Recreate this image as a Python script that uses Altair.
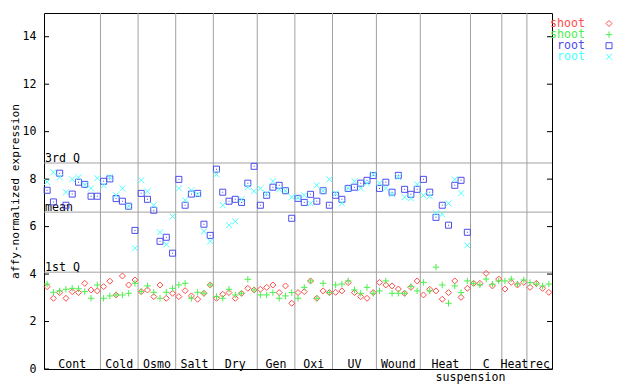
import altair as alt
import pandas as pd

# ---- data ----
groups = ["Cont", "Cold", "Osmo", "Salt", "Dry", "Gen", "Oxi", "UV", "Wound",
          "Heat", "C", "Heat", "rec"]
group_sizes = [9, 6, 6, 6, 7, 6, 6, 7, 7, 8, 5, 4, 4]

shoot_red = [3.47, 2.98, 3.22, 2.98, 3.26, 3.22, 3.61, 3.33, 3.29,
             3.47, 3.70, 3.12, 3.92, 3.54, 3.75,
             3.26, 3.33, 3.05, 3.54, 2.98, 3.19,
             3.05, 3.30, 3.08, 2.94, 3.19, 3.54,
             2.98, 3.15, 3.22, 2.98, 3.19, 3.40, 3.33,
             3.36, 3.44, 3.54, 3.22, 3.50, 2.77,
             3.22, 3.26, 3.71, 2.98, 3.29, 3.22,
             3.23, 3.29, 3.64, 3.22, 3.05, 2.98, 3.22,
             3.65, 3.54, 3.50, 3.37, 3.19, 3.44, 3.71,
             3.12, 3.36, 3.29, 2.94, 3.22, 3.71, 3.02, 3.40,
             3.61, 3.61, 4.03, 3.50, 3.79,
             3.37, 3.65, 3.54, 3.65,
             3.44, 3.61, 3.40, 3.23]

shoot_green = [3.58, 3.23, 3.29, 3.36, 3.40, 3.38, 3.26, 2.98, 3.54,
               2.98, 3.08, 3.12, 3.12, 3.19, 3.61,
               3.26, 3.50, 3.23, 2.98, 3.23, 3.40,
               3.54, 3.61, 2.98, 3.23, 3.19, 3.54,
               3.05, 2.98, 3.36, 3.12, 3.19, 3.78, 3.33,
               3.12, 3.12, 3.22, 2.98, 3.08, 3.22,
               2.98, 3.44, 3.71, 2.98, 3.61, 3.22,
               3.54, 3.58, 3.71, 3.33, 3.19, 3.44, 3.19,
               3.29, 3.71, 3.19, 3.19, 3.19, 3.47, 3.29,
               3.65, 3.29, 4.29, 3.54, 2.77, 3.50, 3.22, 3.71,
               3.61, 3.54, 3.79, 3.57, 3.71,
               3.71, 3.79, 3.58, 3.75,
               3.64, 3.58, 3.50, 3.58]

root_blue = [7.53, 7.04, 8.25, 6.90, 7.37, 7.87, 7.78, 7.28, 7.28,
             7.91, 8.01, 7.18, 7.07, 6.86, 5.84,
             7.40, 7.15, 6.69, 5.38, 5.55, 4.88,
             7.99, 6.90, 7.37, 7.40, 6.10, 5.63,
             8.42, 7.45, 7.07, 7.15, 7.02, 7.83, 8.54,
             6.90, 7.32, 7.66, 7.74, 7.51, 6.35,
             7.19, 7.02, 7.36, 7.07, 7.51, 6.90,
             7.32, 7.15, 7.61, 7.66, 7.83, 7.95, 8.15,
             7.61, 7.87, 7.45, 8.16, 7.57, 7.36, 7.57,
             7.99, 7.45, 6.39, 6.90, 6.06, 7.74, 7.95, 5.76]

root_cyan = [7.88, 8.29, 8.08, 7.45, 7.99, 8.08, 7.76, 7.61, 8.04,
             7.74, 8.08, 7.32, 7.61, 6.86, 5.09,
             7.95, 7.49, 6.90, 5.76, 5.25, 6.43,
             7.61, 7.11, 7.53, 7.36, 5.80, 5.38,
             8.20, 6.90, 6.06, 6.22, 7.15, 7.66, 7.49,
             7.61, 7.40, 7.91, 7.57, 7.51, 7.24,
             7.22, 7.32, 6.98, 7.74, 7.51, 7.99,
             7.40, 6.98, 7.61, 7.91, 7.61, 7.83, 8.20,
             7.83, 7.61, 7.36, 8.08, 7.24, 7.19, 7.78,
             7.32, 7.28, 6.56, 6.52, 6.98, 7.99, 7.40, 5.21]

ref_names = ["3rd Q", "mean", "1st Q"]
ref_values = [8.68, 6.61, 4.08]
y_ticks = [0, 2, 4, 6, 8, 10, 12, 14]

series_names = ["shoot", "shoot", "root", "root"]
series_colors = ["#ff4d4d", "#4dee4d", "#4d4dee", "#4dffff"]

# ---- derived tables ----
n_total = sum(group_sizes)
bounds = []
centers = []
acc = 0
for s in group_sizes:
    centers.append(acc + s / 2)
    acc += s
    bounds.append(acc)
bounds = bounds[:-1]

def series_df(vals, key):
    return pd.DataFrame({"x": [i + 0.5 for i in range(len(vals))], "v": vals, "s": key})

df_red = series_df(shoot_red, "shoot_r")
df_green = series_df(shoot_green, "shoot_g")
df_blue = series_df(root_blue, "root_b")
df_cyan = series_df(root_cyan, "root_c")

df_groups = pd.DataFrame({"label": groups, "x": centers})
df_susp = pd.DataFrame({"label": ["suspension"], "x": [bounds[9]]})
df_bounds = pd.DataFrame({"x": bounds})
df_ref = pd.DataFrame({"name": ref_names, "v": ref_values})
df_ticks = pd.DataFrame({"v": y_ticks})

FONT = "DejaVu Sans Mono"
FS = 11.6
W, H = 508, 356

xs = alt.Scale(domain=[0, n_total], nice=False, zero=False)
ys = alt.Scale(domain=[0, 15], nice=False, zero=True)

X = alt.X("x:Q", scale=xs, axis=None)
Yv = alt.Y("v:Q", scale=ys,
           axis=alt.Axis(values=y_ticks, ticks=False, tickSize=0, domain=False, grid=False,
                         labelFont=FONT, labelFontSize=FS, labelColor="black", labelPadding=8,
                         title="affy-normalized expression", titleFont=FONT, titleFontSize=11.2,
                         titleFontWeight="normal", titleColor="black", titleAngle=270,
                         titleX=-29, titleY=H / 2, titleAlign="center", titleBaseline="middle"))

vlines = alt.Chart(df_bounds).mark_rule(color="#a0a0a0", strokeWidth=1).encode(x=X)
hlines = alt.Chart(df_ref).mark_rule(color="#a0a0a0", strokeWidth=1).encode(y=alt.Y("v:Q", scale=ys))
hlabels = alt.Chart(df_ref).mark_text(font=FONT, fontSize=FS, align="left", baseline="alphabetic",
                                      dx=1, dy=-1, color="black").encode(
    x=alt.value(0), y=alt.Y("v:Q", scale=ys), text="name:N")

lticks = alt.Chart(df_ticks).mark_rule(color="black").encode(
    y=alt.Y("v:Q", scale=ys), x=alt.value(0), x2=alt.value(5))
rticks = alt.Chart(df_ticks).mark_rule(color="black").encode(
    y=alt.Y("v:Q", scale=ys), x=alt.value(W - 5), x2=alt.value(W))

plus_path = "M-1,0L1,0M0,-1L0,1"
x_path = "M-1,-1L1,1M-1,1L1,-1"

def pts(df, shape, color, size):
    return alt.Chart(df).mark_point(shape=shape, filled=False, color=color, strokeWidth=1,
                                    size=size, opacity=1).encode(x=X, y=alt.Y("v:Q", scale=ys))

p_red = pts(df_red, "diamond", series_colors[0], 36)
p_green = pts(df_green, plus_path, series_colors[1], 42)
p_blue = pts(df_blue, "square", series_colors[2], 36)
p_blue_dot = alt.Chart(df_blue).mark_point(shape="square", filled=True, color=series_colors[2],
                                           size=1, opacity=1).encode(x=X, y=alt.Y("v:Q", scale=ys))
p_cyan = pts(df_cyan, x_path, series_colors[3], 36)

glabels = alt.Chart(df_groups).mark_text(font=FONT, fontSize=FS, baseline="alphabetic",
                                         align="center", color="black").encode(
    x=X, y=alt.value(H - 1), text="label:N")
slabel = alt.Chart(df_susp).mark_text(font=FONT, fontSize=FS, baseline="alphabetic",
                                      align="center", color="black").encode(
    x=X, y=alt.value(H + 12), text="label:N")

# legend (drawn manually to match the reference)
legend_layers = []
leg_shapes = ["diamond", plus_path, "square", x_path]
leg_sizes = [36, 42, 36, 36]
for k in range(4):
    ly = 10.5 + k * 11.1
    d = pd.DataFrame({"t": [series_names[k]]})
    legend_layers.append(alt.Chart(d).mark_text(font=FONT, fontSize=FS, align="right",
                                                baseline="middle", color=series_colors[k]).encode(
        x=alt.value(541), y=alt.value(ly), text="t:N"))
    legend_layers.append(alt.Chart(d).mark_point(shape=leg_shapes[k], filled=False,
                                                 color=series_colors[k], strokeWidth=1,
                                                 size=leg_sizes[k], opacity=1).encode(
        x=alt.value(565), y=alt.value(ly)))

base_axis = alt.Chart(df_ticks).mark_point(opacity=0).encode(y=Yv)

chart = alt.layer(
    base_axis, vlines, hlines, hlabels, lticks, rticks,
    p_red, p_green, p_blue, p_blue_dot, p_cyan,
    glabels, slabel, *legend_layers
).properties(
    width=W, height=H,
    autosize=alt.AutoSizeParams(type="none"),
    padding={"left": 36, "top": 5, "right": 80, "bottom": 15},
).configure_view(stroke="black", strokeWidth=1)

chart.save("out.html", embed_options={"renderer": "svg", "actions": False})
